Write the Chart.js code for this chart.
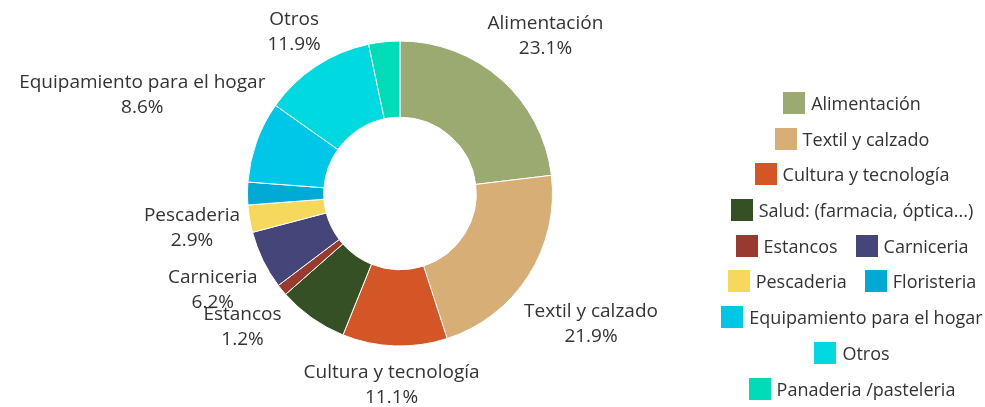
<!DOCTYPE html>
<html lang="es">
<head>
<meta charset="UTF-8">
<title>Comercios por sector</title>
<style>
body {
    margin: 0;
    background: #fff;
    font-family: "Open Sans", sans-serif;
}
#wrap {
    position: relative;
    width: 985px;
    height: 407px;
}
#legend {
    position: absolute;
    left: 714px;
    top: 92px;
    width: 276px;
    display: flex;
    flex-wrap: wrap;
    justify-content: center;
    row-gap: 13.7px;
    column-gap: 18px;
}
.leg-item {
    display: flex;
    align-items: center;
    height: 22px;
    font-size: 18px;
    color: #333;
    white-space: nowrap;
}
.leg-box {
    width: 22px;
    height: 22px;
    margin-right: 6px;
}
</style>
</head>
<body>
<div id="wrap">
    <canvas id="chart"></canvas>
    <div id="legend"></div>
</div>

<script src="https://cdn.jsdelivr.net/npm/chart.js"></script>
<script>
const categories = [
    'Alimentación', 'Textil y calzado', 'Cultura y tecnología',
    'Salud: (farmacia, óptica...)', 'Estancos', 'Carniceria',
    'Pescaderia', 'Floristeria', 'Equipamiento para el hogar',
    'Otros', 'Panaderia /pasteleria'
];
const shares = [23.1, 21.9, 11.1, 7.4, 1.2, 6.2, 2.9, 2.4, 8.6, 11.9, 3.3];
const colors = [
    '#9aaa71', '#d8ae77', '#d45525', '#355024', '#993a2e', '#444578',
    '#f6d85c', '#00aad4', '#00c7e8', '#00d9e0', '#00dcb7'
];
// slices that carry an outside label in the original
const labelled = [
    'Alimentación', 'Textil y calzado', 'Cultura y tecnología', 'Estancos',
    'Carniceria', 'Pescaderia', 'Equipamiento para el hogar', 'Otros'
];

// the original spreads a couple of labels away from their slice
const labelShiftY = {
    'Textil y calzado': 17,
    'Carniceria': 5,
    'Equipamiento para el hogar': -27
};

const outsideLabels = {
    id: 'outsideLabels',
    afterDatasetsDraw(chart) {
        const { ctx } = chart;
        const meta = chart.getDatasetMeta(0);
        ctx.save();
        ctx.font = '19px "Open Sans"';
        ctx.fillStyle = '#333';
        ctx.textAlign = 'center';
        ctx.textBaseline = 'middle';
        const padX = 18, padY = 33, lineH = 25;
        meta.data.forEach((arc, i) => {
            const name = chart.data.labels[i];
            if (!labelled.includes(name)) return;
            const p = arc.getProps(['x', 'y', 'startAngle', 'endAngle', 'outerRadius'], true);
            const mid = (p.startAngle + p.endAngle) / 2;
            const cx = Math.cos(mid), cy = Math.sin(mid);
            const pct = chart.data.datasets[0].data[i].toFixed(1) + '%';
            const w = Math.max(ctx.measureText(name).width, ctx.measureText(pct).width);
            const x = p.x + cx * (p.outerRadius + padX) + cx * w * 0.42;
            let y = p.y + cy * (p.outerRadius + padY + lineH) + (labelShiftY[name] || 0);
            // keep both lines inside the canvas
            y = Math.max(y, 20 + lineH / 2);
            y = Math.min(y, chart.height - 9 - lineH / 2);
            ctx.fillText(name, x, y - lineH / 2);
            ctx.fillText(pct, x, y + lineH / 2);
        });
        ctx.restore();
    }
};

const chart = new Chart(document.getElementById('chart'), {
    type: 'doughnut',
    data: {
        labels: categories,
        datasets: [{
            data: shares,
            backgroundColor: colors,
            borderColor: '#fff',
            borderWidth: 1
        }]
    },
    options: {
        responsive: true,
        maintainAspectRatio: false,
        animation: false,
        cutout: '50%',
        layout: { padding: { left: 247, right: 432, top: 40, bottom: 60 } },
        plugins: {
            legend: { display: false },
            tooltip: { enabled: false }
        }
    },
    plugins: [outsideLabels]
});

// html legend so rows wrap and centre like the original
const legendDiv = document.getElementById('legend');
chart.options.plugins.legend.labels.generateLabels(chart).forEach(item => {
    const el = document.createElement('div');
    el.className = 'leg-item';
    const box = document.createElement('span');
    box.className = 'leg-box';
    box.style.background = item.fillStyle;
    el.appendChild(box);
    el.appendChild(document.createTextNode(item.text));
    legendDiv.appendChild(el);
});
</script>
</body>
</html>
